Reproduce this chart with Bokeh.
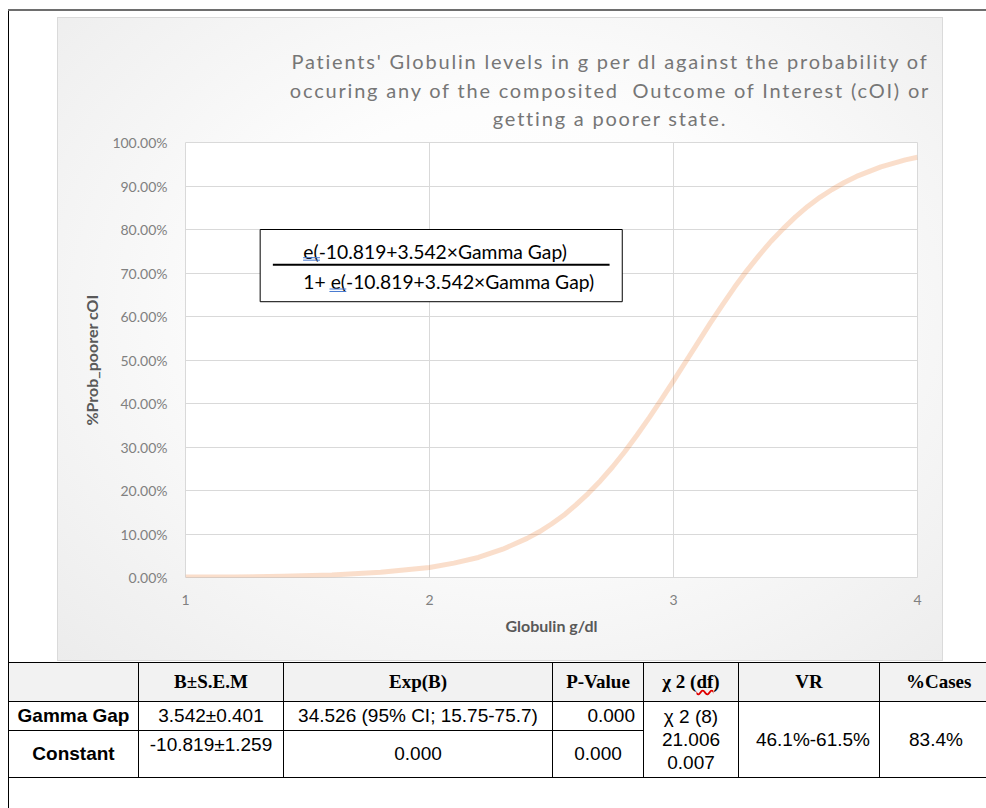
from bokeh.plotting import figure
from bokeh.models import Label, FixedTicker, NumeralTickFormatter, Div, Range1d, BoxAnnotation
from bokeh.layouts import column
from bokeh.embed import file_html
from bokeh.resources import INLINE

# ---------------- data ----------------
globulin = [1.0, 1.2, 1.4, 1.6, 1.8, 2.0, 2.1, 2.2, 2.3, 2.4, 2.45,
            2.5, 2.55, 2.6, 2.65, 2.7, 2.75, 2.8, 2.85, 2.9, 2.95, 3.0, 3.05, 3.1, 3.15,
            3.2, 3.25, 3.3, 3.35, 3.4, 3.45, 3.5, 3.55, 3.6, 3.65, 3.7, 3.75, 3.8, 3.85,
            3.9, 3.95, 4.0]
prob_poorer = [0.001, 0.001, 0.003, 0.006, 0.012, 0.023, 0.033, 0.046, 0.065, 0.090, 0.105,
               0.123, 0.143, 0.167, 0.193, 0.222, 0.254, 0.289, 0.327, 0.367, 0.409,
               0.452, 0.496, 0.540, 0.584, 0.626, 0.667, 0.705, 0.740, 0.773, 0.802,
               0.829, 0.853, 0.874, 0.892, 0.908, 0.922, 0.933, 0.944, 0.952, 0.960, 0.966]
x_ticks = [1, 2, 3, 4]
y_ticks = [0.0, 0.1, 0.2, 0.3, 0.4, 0.5, 0.6, 0.7, 0.8, 0.9, 1.0]

title_lines = ["Patients' Globulin levels in g per dl against the probability of",
               "occuring any of the composited  Outcome of Interest (cOI) or",
               "getting a poorer state."]
formula_num = "e(-10.819+3.542\u00d7Gamma Gap)"
formula_den = "1+ e(-10.819+3.542\u00d7Gamma Gap)"

table_header = ["", "B\u00b1S.E.M", "Exp(B)", "P-Value", "\u03c7 2 (df)", "VR", "%Cases"]
row_labels = ["Gamma Gap", "Constant"]
b_sem = ["3.542\u00b10.401", "-10.819\u00b11.259"]
exp_b = ["34.526 (95% CI; 15.75-75.7)", "0.000"]
p_value = ["0.000", "0.000"]
chi2_lines = ["\u03c7 2 (8)", "21.006", "0.007"]
vr_text = "46.1%-61.5%"
pct_cases = "83.4%"

# ---------------- backgrounds (page frame + chart-area gradient) ----------------
def page_bg(offset_y, height):
    return ("linear-gradient(#6e6e6e,#6e6e6e) 8px %dpx / 978px 2px no-repeat, "
            "linear-gradient(#000000,#000000) 8px %dpx / 1px %dpx no-repeat, "
            "radial-gradient(ellipse farthest-corner at 52%% 45%%, #ffffff 0%%, #fdfdfd 40%%, #ececec 100%%) 58px %dpx / 884px 642px no-repeat, "
            "linear-gradient(#dadada,#dadada) 57px %dpx / 886px 644px no-repeat, "
            "#ffffff") % (9 - offset_y, max(10 - offset_y, 0), height, 18 - offset_y, 17 - offset_y)

# ---------------- title (HTML so the letter spacing can follow the reference) ----------------
title_html = (
    '<div style="position:relative;width:986px;height:130px;overflow:hidden;">'
    '<div style="position:absolute;left:0;top:47px;width:1220px;text-align:center;'
    "font-family:Lato,'Open Sans',sans-serif;font-weight:400;font-size:20px;line-height:28.5px;"
    'letter-spacing:1.8px;color:#767676;white-space:pre;">'
    + "<br>".join(title_lines) +
    '</div></div>'
)
title_div = Div(text=title_html, width=986, height=130,
                styles={"background": page_bg(0, 130), "margin": "0", "padding": "0"})

# ---------------- chart ----------------
p = figure(width=986, height=532, x_range=Range1d(1, 4), y_range=Range1d(0, 1),
           output_backend="svg", toolbar_location=None,
           min_border_left=185, min_border_right=69, min_border_top=12, min_border_bottom=85,
           styles={"background": page_bg(130, 532)})
p.border_fill_color = None
p.background_fill_color = "white"
p.outline_line_color = "#d9d9d9"

p.xaxis.ticker = FixedTicker(ticks=x_ticks)
p.yaxis.ticker = FixedTicker(ticks=y_ticks)
p.xgrid.ticker = FixedTicker(ticks=x_ticks)
p.ygrid.ticker = FixedTicker(ticks=y_ticks)
p.yaxis.formatter = NumeralTickFormatter(format="0.00%")
for g in (p.xgrid, p.ygrid):
    g.grid_line_color = "#d9d9d9"
    g.grid_line_width = 1
for ax in (p.xaxis, p.yaxis):
    ax.axis_line_color = None
    ax.major_tick_line_color = None
    ax.minor_tick_line_color = None
    ax.major_label_text_font = "Lato"
    ax.major_label_text_font_size = "14px"
    ax.major_label_text_color = "#808080"
    ax.axis_label_text_font = "Lato"
    ax.axis_label_text_font_style = "bold"
    ax.axis_label_text_font_size = "16px"
    ax.axis_label_text_color = "#595959"
p.yaxis.major_label_standoff = 12
p.xaxis.major_label_standoff = 11
p.yaxis.axis_label = "%Prob_poorer cOI"
p.xaxis.axis_label = "Globulin g/dl"
p.yaxis.axis_label_standoff = 8
p.xaxis.axis_label_standoff = 8

p.line(globulin, prob_poorer, line_color="#ED7D31", line_alpha=0.25, line_width=5,
       line_join="round")

# formula box
p.add_layout(BoxAnnotation(left=1.306, right=2.79, bottom=0.634, top=0.800,
                           fill_color="white", fill_alpha=1.0, line_color="black", line_width=1,
                           line_alpha=1.0))
p.add_layout(BoxAnnotation(left=1.358, right=2.738, bottom=0.7166, top=0.7212,
                           fill_color="black", fill_alpha=1.0, line_color=None))
p.add_layout(Label(x=1.483, y=0.750, text=formula_num, text_align="left", text_baseline="middle",
                   text_font="Lato", text_font_size="19.3px", text_color="#000000"))
p.add_layout(Label(x=1.483, y=0.680, text=formula_den, text_align="left", text_baseline="middle",
                   text_font="Lato", text_font_size="19.3px", text_color="#000000"))
# spell-check double underlines under "e("
for l, r, b1, b2 in [(1.482, 1.551, 0.7283, 0.7340), (1.590, 1.659, 0.6563, 0.6620)]:
    for b in (b1, b2):
        p.add_layout(BoxAnnotation(left=l, right=r, bottom=b, top=b + 0.0024,
                                   fill_color="#4a7bd0", fill_alpha=1.0, line_color=None))

# ---------------- table ----------------
arial = "font-family:'Liberation Sans',Arial,sans-serif;font-size:19px;"
times = "font-family:'Liberation Serif','Times New Roman',serif;font-size:19px;font-weight:bold;"
bd = "border:1px solid #000;"
cols = [130, 145, 269, 91, 95, 141, 229]

hdr_cells = []
for i, h in enumerate(table_header):
    txt = h
    align = "text-align:center;padding:0;"
    if h.startswith("\u03c7"):
        txt = ("\u03c7 2 (<span style=\"text-decoration:underline wavy #e00000;"
               "text-decoration-skip-ink:none;\">df</span>)")
    if i == len(table_header) - 1:
        align = "text-align:left;padding:0 0 0 26px;"
    hdr_cells.append(f'<td style="{bd}{times}background:#f2f2f2;{align}vertical-align:middle;">{txt}</td>')

chi2_html = "<br>".join(chi2_lines)
row1 = (f'<td style="{bd}{arial}font-weight:bold;text-align:center;vertical-align:middle;padding:0;">{row_labels[0]}</td>'
        f'<td style="{bd}{arial}text-align:center;vertical-align:middle;padding:0;">{b_sem[0]}</td>'
        f'<td style="{bd}{arial}text-align:center;vertical-align:middle;padding:0;">{exp_b[0]}</td>'
        f'<td style="{bd}{arial}text-align:right;vertical-align:middle;padding:0 8px 0 0;">{p_value[0]}</td>'
        f'<td rowspan="2" style="{bd}{arial}line-height:23px;text-align:center;vertical-align:middle;padding:0;">{chi2_html}</td>'
        f'<td rowspan="2" style="{bd}{arial}text-align:right;vertical-align:middle;padding:0 9px 0 0;">{vr_text}</td>'
        f'<td rowspan="2" style="{bd}{arial}text-align:left;vertical-align:middle;padding:0 0 0 29px;">{pct_cases}</td>')
row2 = (f'<td style="{bd}{arial}font-weight:bold;text-align:center;vertical-align:middle;padding:0;">{row_labels[1]}</td>'
        f'<td style="{bd}{arial}text-align:center;vertical-align:top;padding:0;">{b_sem[1]}</td>'
        f'<td style="{bd}{arial}text-align:center;vertical-align:middle;padding:0;">{exp_b[1]}</td>'
        f'<td style="{bd}{arial}text-align:center;vertical-align:middle;padding:0;">{p_value[1]}</td>')

colgroup = "".join(f'<col style="width:{w}px">' for w in cols)
html = (
    '<div style="position:relative;width:986px;height:146px;overflow:hidden;background:#ffffff;">'
    '<div style="position:absolute;left:8px;top:0;width:1px;height:146px;background:#000;"></div>'
    f'<table style="position:absolute;left:8px;top:0;border-collapse:collapse;table-layout:fixed;width:{sum(cols)}px;color:#000;">'
    f'<colgroup>{colgroup}</colgroup>'
    f'<tr style="height:39px;">{"".join(hdr_cells)}</tr>'
    f'<tr style="height:29px;">{row1}</tr>'
    f'<tr style="height:47px;">{row2}</tr>'
    '</table></div>'
)
table_div = Div(text=html, width=986, height=146, styles={"margin": "0", "padding": "0"})

layout = column(title_div, p, table_div, spacing=0)
open("out.html", "w").write(file_html(layout, INLINE))
